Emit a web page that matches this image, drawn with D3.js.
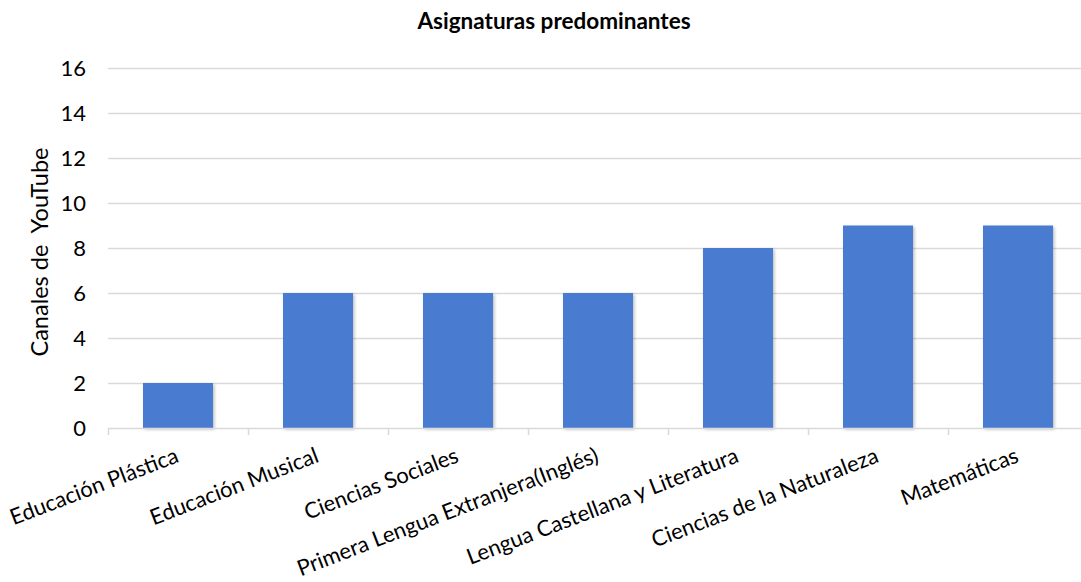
<!DOCTYPE html>
<html>
<head>
<meta charset="utf-8">
<script src="https://cdn.jsdelivr.net/npm/d3@7/dist/d3.min.js"></script>
<style>
  html, body { margin: 0; padding: 0; background: #fff; }
  svg { display: block; font-family: Lato, "Open Sans", sans-serif; }
</style>
</head>
<body>
<svg id="chart" width="1081" height="582"></svg>
<script>
// Subjects and number of YouTube channels for each
const categories = [
  "Educación Plástica",
  "Educación Musical",
  "Ciencias Sociales",
  "Primera Lengua Extranjera(Inglés)",
  "Lengua Castellana y Literatura",
  "Ciencias de la Naturaleza",
  "Matemáticas"
];
const channels = [2, 6, 6, 6, 8, 9, 9];
const yTicks = [0, 2, 4, 6, 8, 10, 12, 14, 16];

const title = "Asignaturas predominantes";
const yTitle = "Canales de  YouTube";

const svg = d3.select("#chart");
const margin = { left: 108, right: -7, top: 68, bottom: 154 };
const W = 1081, H = 582;

const x = d3.scaleBand()
  .domain(categories)
  .range([margin.left, W - margin.right])
  .paddingInner(0.5)
  .paddingOuter(0.25);

const y = d3.scaleLinear()
  .domain([0, 16])
  .range([H - margin.bottom, margin.top]);

// soft shadow under the bars
const defs = svg.append("defs");
const f = defs.append("filter").attr("id", "shadow")
  .attr("x", "-10%").attr("y", "-10%").attr("width", "130%").attr("height", "130%");
f.append("feDropShadow")
  .attr("dx", 1.5).attr("dy", 1.5).attr("stdDeviation", 1.5)
  .attr("flood-color", "#000").attr("flood-opacity", 0.25);

// horizontal gridlines
svg.append("g")
  .selectAll("line")
  .data(yTicks.filter(d => d !== 0))
  .join("line")
  .attr("x1", x.range()[0]).attr("x2", x.range()[1])
  .attr("y1", d => Math.round(y(d)) + 0.5).attr("y2", d => Math.round(y(d)) + 0.5)
  .attr("stroke", "#d9d9d9").attr("stroke-width", 1.3);

// y axis labels
const yAxis = d3.axisLeft(y).tickValues(yTicks).tickSize(0).tickPadding(0);
const gy = svg.append("g")
  .attr("transform", `translate(${86},0)`)
  .call(yAxis);
gy.select(".domain").remove();
gy.selectAll("text")
  .attr("font-size", 22)
  .attr("fill", "#000")
  .attr("font-family", "Lato, 'Open Sans', sans-serif");

// bars
svg.append("g")
  .selectAll("rect")
  .data(categories.map((c, i) => ({ c, v: channels[i] })))
  .join("rect")
  .attr("x", d => x(d.c))
  .attr("width", x.bandwidth())
  .attr("y", d => y(d.v))
  .attr("height", d => y(0) - y(d.v))
  .attr("fill", "#4a7cd1")
  .attr("filter", "url(#shadow)");

// category axis: baseline plus ticks at band boundaries
const gx = svg.append("g");
const y0 = Math.round(y(0)) + 0.5;
gx.append("line")
  .attr("x1", x.range()[0]).attr("x2", x.range()[1])
  .attr("y1", y0).attr("y2", y0)
  .attr("stroke", "#d9d9d9").attr("stroke-width", 1.5);
const half = (x.step() - x.bandwidth()) / 2;
const bounds = categories.map(c => x(c) - half).concat([x(categories[categories.length - 1]) + x.bandwidth() + half]);
gx.selectAll("line.tick")
  .data(bounds)
  .join("line")
  .attr("class", "tick")
  .attr("x1", d => Math.round(d) + 0.5).attr("x2", d => Math.round(d) + 0.5)
  .attr("y1", y0).attr("y2", y0 + 6.5)
  .attr("stroke", "#d9d9d9").attr("stroke-width", 1.5);

gx.selectAll("text")
  .data(categories)
  .join("text")
  .attr("transform", d => `translate(${x(d) + x.bandwidth() / 2 + 2},${y0 + 33}) rotate(-21)`)
  .attr("text-anchor", "end")
  .attr("font-size", 22)
  .attr("fill", "#000")
  .text(d => d);

// axis title
svg.append("text")
  .attr("transform", `translate(48,${(y(0) + y(16)) / 2 + 4}) rotate(-90)`)
  .attr("text-anchor", "middle")
  .attr("font-size", 23.5)
  .attr("fill", "#000")
  .text(yTitle)
  .style("white-space", "pre");

// chart title
svg.append("text")
  .attr("x", 554).attr("y", 29)
  .attr("text-anchor", "middle")
  .attr("font-size", 22.5)
  .attr("font-weight", "bold")
  .attr("fill", "#000")
  .text(title);
</script>
</body>
</html>
